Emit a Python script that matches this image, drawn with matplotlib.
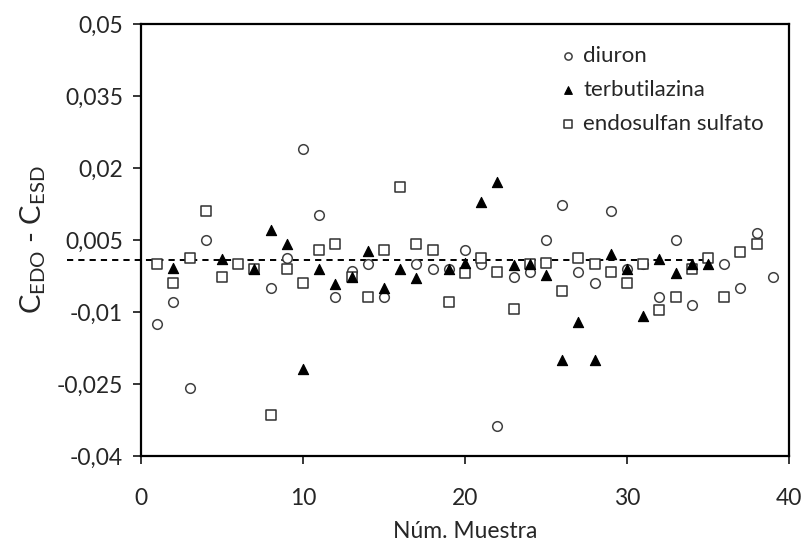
import matplotlib
matplotlib.use("Agg")
import matplotlib.pyplot as plt
from matplotlib.ticker import FixedLocator, FuncFormatter

plt.rcParams['font.family'] = ['Lato', 'DejaVu Sans']
plt.rcParams['mathtext.fontset'] = 'custom'
plt.rcParams['mathtext.rm'] = 'Lato'
plt.rcParams['mathtext.it'] = 'Lato'

# Differences C_EDO - C_ESD per sample
diuron_x = [1, 2, 3, 4, 8, 9, 10, 11, 12, 13, 14, 15, 17, 18, 19, 20, 21, 22, 23, 24,
            25, 26, 27, 28, 29, 30, 31, 32, 33, 34, 36, 37, 38, 39]
diuron_y = [-0.0125, -0.0080, -0.0258, 0.0051, -0.0051, 0.0012, 0.0240, 0.0103, -0.0069,
            -0.0015, 0.0001, -0.0068, 0.0001, -0.0010, -0.0010, 0.0030, -0.0001, -0.0338,
            -0.0028, -0.0016, 0.0051, 0.0122, -0.0016, -0.0040, 0.0110, -0.0010, 0.0001,
            -0.0068, 0.0051, -0.0085, 0.0001, -0.0051, 0.0064, -0.0028]

terb_x = [2, 5, 7, 8, 9, 10, 11, 12, 13, 14, 15, 16, 17, 19, 20, 21, 22, 23, 24, 25,
          26, 27, 28, 29, 30, 31, 32, 33, 34, 35]
terb_y = [-0.0009, 0.0010, -0.0010, 0.0071, 0.0041, -0.0219, -0.0011, -0.0041, -0.0027,
          0.0028, -0.0049, -0.0011, -0.0030, -0.0010, 0.0003, 0.0130, 0.0170, -0.0003,
          0.0001, -0.0022, -0.0200, -0.0121, -0.0200, 0.0020, -0.0011, -0.0108, 0.0011,
          -0.0019, 0.0001, -0.0001]

endo_x = list(range(1, 39))
endo_y = [0.0001, -0.0039, 0.0012, 0.0110, -0.0028, 0.0001, -0.0010, -0.0314, -0.0010,
          -0.0039, 0.0030, 0.0042, -0.0027, -0.0068, 0.0030, 0.0160, 0.0042, 0.0030,
          -0.0079, -0.0018, 0.0013, -0.0016, -0.0094, 0.0001, 0.0003, -0.0056, 0.0012,
          0.0001, -0.0016, -0.0039, 0.0001, -0.0096, -0.0068, -0.0010, 0.0012, -0.0068,
          0.0024, 0.0041]

ref_level = 0.0008
ref_span = [-4.6, 35.3]

x_ticks = [0, 10, 20, 30, 40]
y_ticks = [-0.04, -0.025, -0.01, 0.005, 0.02, 0.035, 0.05]

text_color = '#262626'

fig = plt.figure(figsize=(8.04, 5.48), dpi=100)
ax = fig.add_axes([0.1754, 0.1679, 0.8059, 0.7883])

ax.plot(ref_span, [ref_level, ref_level], color='black', linestyle=(0, (3.2, 2.6)),
        linewidth=1.4, clip_on=False, zorder=1)

ax.scatter(diuron_x, diuron_y, marker='o', s=48, facecolors='white',
           edgecolors='#404040', linewidths=1.1, label='diuron', zorder=3)
ax.scatter(terb_x, terb_y, marker='^', s=54, facecolors='black',
           edgecolors='black', linewidths=0.8, label='terbutilazina', zorder=4)
ax.scatter(endo_x, endo_y, marker='s', s=58, facecolors='white',
           edgecolors='#303030', linewidths=1.1, label='endosulfan sulfato', zorder=3)

ax.set_xlim(0, 40)
ax.set_ylim(-0.04, 0.05)
ax.xaxis.set_major_locator(FixedLocator(x_ticks))
ax.yaxis.set_major_locator(FixedLocator(y_ticks))
ax.yaxis.set_major_formatter(FuncFormatter(lambda v, p: f"{v:g}".replace('.', ',')))
ax.xaxis.set_major_formatter(FuncFormatter(lambda v, p: f"{v:g}"))

for sp in ax.spines.values():
    sp.set_linewidth(1.6)
    sp.set_color('black')
ax.tick_params(axis='both', direction='out', length=6, width=1.1, colors='black',
               labelsize=16.5, labelcolor=text_color)
ax.tick_params(axis='x', pad=17)
ax.tick_params(axis='y', pad=7)

ax.set_xlabel('Núm. Muestra', fontsize=16.5, color=text_color, labelpad=9)
ax.set_ylabel(r'$\mathregular{C_{EDO}}$ - $\mathregular{C_{ESD}}$', fontsize=21,
              color=text_color, labelpad=6)

leg = ax.legend(loc='upper right', bbox_to_anchor=(0.985, 0.985), frameon=False,
                fontsize=16, handletextpad=0.25, labelspacing=0.62, borderaxespad=0.3,
                markerscale=0.75, handlelength=0.9)
for t in leg.get_texts():
    t.set_color(text_color)

fig.savefig('out.png', dpi=100)
